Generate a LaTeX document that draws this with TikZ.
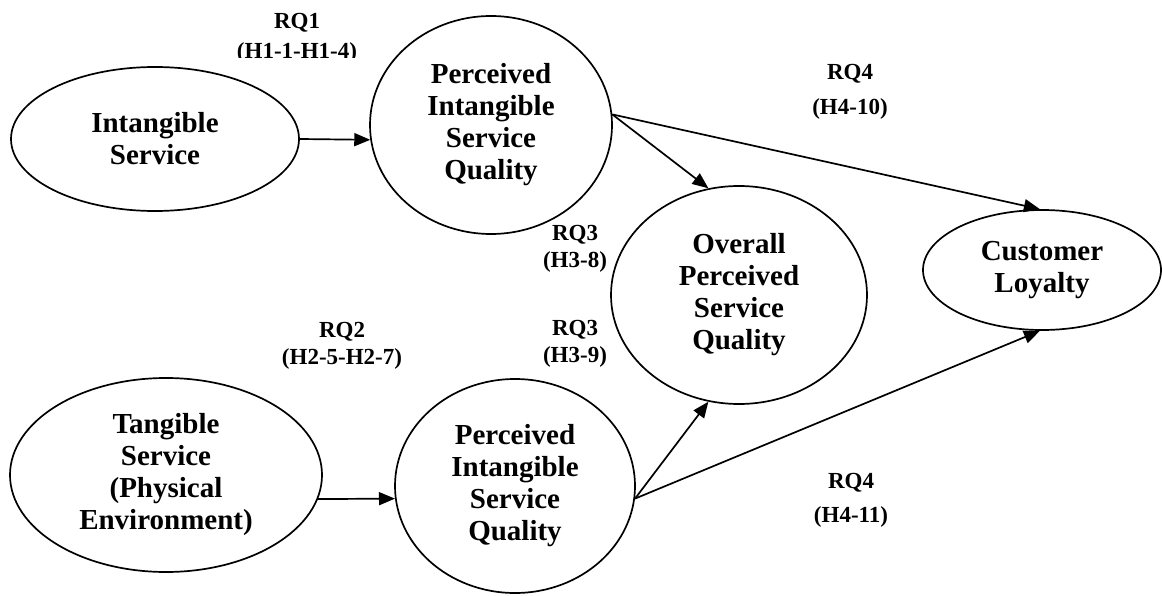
\documentclass[tikz,border=0pt]{standalone}
\usepackage{fontspec}
\setmainfont{Liberation Serif}
\usetikzlibrary{shapes.geometric,arrows.meta}
\begin{document}
\begin{tikzpicture}[x=1pt,y=-1pt,
  construct/.style={ellipse, draw, line width=1.7pt, inner sep=0pt, align=center,
    font=\fontsize{29}{32}\selectfont\bfseries},
  lbl/.style={align=center, inner sep=0pt,
    font=\fontsize{23}{27}\selectfont\bfseries},
  link/.style={draw, line width=1.7pt, -{Triangle[length=16pt,width=13pt]}}
]
\path[use as bounding box] (0,0) rectangle (1162,596);

% constructs
\node[construct, minimum width=288pt, minimum height=144pt] (isv) at (155,139) {Intangible\\Service};
\node[construct, minimum width=242pt, minimum height=218pt] (pisq) at (491,125) {Perceived\\Intangible\\Service\\Quality};
\node[construct, minimum width=256pt, minimum height=218pt] (ops) at (739,295) {Overall\\Perceived\\Service\\Quality};
\node[construct, minimum width=238pt, minimum height=120pt] (cl) at (1042,270) {Customer\\Loyalty};
\node[construct, minimum width=312pt, minimum height=194pt] (tsv) at (166,475) {Tangible\\Service\\(Physical\\Environment)};
\node[construct, minimum width=240pt, minimum height=214pt] (bpisq) at (515,486) {Perceived\\Intangible\\Service\\Quality};

% hypothesised paths
\draw[link] (isv.east) -- (pisq.187);
\draw[link] (pisq.5) -- (ops.106);
\draw[link] (pisq.5) -- (cl.92);
\draw[link] (tsv.-9) -- (bpisq.186);
\draw[link] (bpisq.-6) -- (ops.254);
\draw[link] (bpisq.-6) -- (cl.268);

% research question labels (the first one is cut off at its lower edge)
\begin{scope}
  \clip (150,0) rectangle (460,57.5);
  \node[lbl] (rq1) at (297,38) {RQ1\\[3pt](H1-1-H1-4)};
\end{scope}
\node[lbl] (rq4a) at (850,92) {RQ4\\[8pt](H4-10)};
\node[lbl] (rq3a) at (575,249) {RQ3\\(H3-8)};
\node[lbl] (rq3b) at (575,344) {RQ3\\(H3-9)};
\node[lbl] (rq2) at (342,346) {RQ2\\(H2-5-H2-7)};
\node[lbl] (rq4b) at (851,500) {RQ4\\[7pt](H4-11)};
\end{tikzpicture}
\end{document}
